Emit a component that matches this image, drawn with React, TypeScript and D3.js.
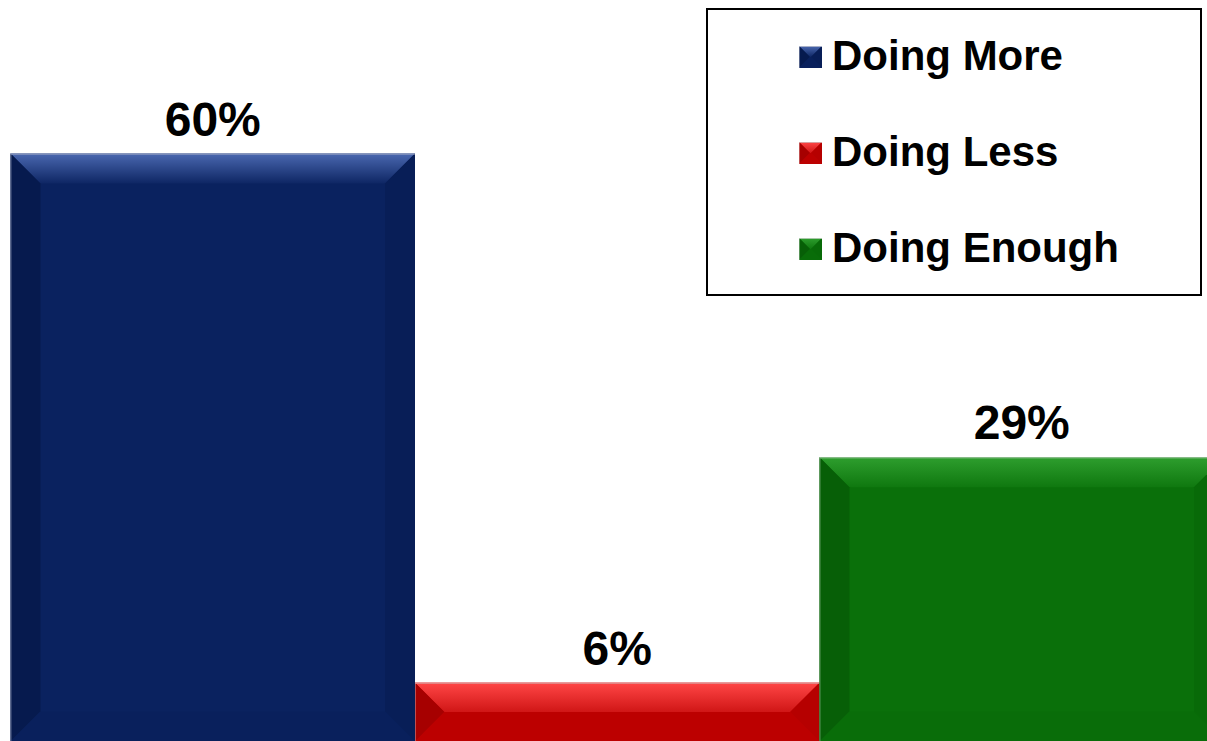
import React from "react";
import * as d3 from "d3";

const categories = ["Doing More", "Doing Less", "Doing Enough"];
const values = [60, 6, 29];
const labels = ["60%", "6%", "29%"];

type Pal = { top1: string; top2: string; body: string; left: string; right: string; bottom: string; edge: string };
const palettes: Pal[] = [
  { top1: "#4a68b0", top2: "#0e2664", body: "#0a225f", left: "#061a4e", right: "#081e57", bottom: "#09205c", edge: "#a8b0c8" },
  { top1: "#ff4646", top2: "#d01616", body: "#c00000", left: "#a60000", right: "#b60000", bottom: "#bc0000", edge: "#d8a0a0" },
  { top1: "#2e9e2e", top2: "#0f780f", body: "#0a700a", left: "#075f07", right: "#086a08", bottom: "#096d09", edge: "#a8c8a8" },
];

const W = 1207;
const H = 741;

function Bevel({ x0, y0, x1, y1, b, pal, id }: { x0: number; y0: number; x1: number; y1: number; b: number; pal: Pal; id: string }) {
  const h = y1 - y0;
  const w = x1 - x0;
  const bb = Math.min(b, h / 2, w / 2);
  const pts = (a: number[][]) => a.map((p) => p.join(",")).join(" ");
  return (
    <g>
      <defs>
        <linearGradient id={id} x1="0" y1="0" x2="0" y2="1">
          <stop offset="0" stopColor={pal.top1} />
          <stop offset="1" stopColor={pal.top2} />
        </linearGradient>
      </defs>
      <rect x={x0} y={y0} width={w} height={h} fill={pal.body} />
      <polygon points={pts([[x0, y0], [x1, y0], [x1 - bb, y0 + bb], [x0 + bb, y0 + bb]])} fill={`url(#${id})`} />
      <polygon points={pts([[x0, y0], [x0 + bb, y0 + bb], [x0 + bb, y1 - bb], [x0, y1]])} fill={pal.left} />
      <polygon points={pts([[x1, y0], [x1 - bb, y0 + bb], [x1 - bb, y1 - bb], [x1, y1]])} fill={pal.right} />
      <polygon points={pts([[x0, y1], [x0 + bb, y1 - bb], [x1 - bb, y1 - bb], [x1, y1]])} fill={pal.bottom} />
      <line x1={x0} x2={x1} y1={y0 + 0.5} y2={y0 + 0.5} stroke={pal.edge} strokeWidth={1} />
      <line x1={x0 + 0.5} x2={x0 + 0.5} y1={y0} y2={y1} stroke={pal.edge} strokeOpacity={0.5} strokeWidth={1} />
    </g>
  );
}

export default function App() {
  const x = d3.scaleBand<string>().domain(categories).range([10.5, 1224]).padding(0);
  const y = d3.scaleLinear().domain([0, 75]).range([741.5, 6.5]);
  const font = "'Liberation Sans', Arial, Helvetica, sans-serif";

  const legendX = 706;
  const legendY = 8;
  const rowY = d3.scalePoint<string>().domain(categories).range([57, 249]);

  return (
    <div style={{ position: "fixed", left: 0, top: 0, width: W, height: H, overflow: "hidden", background: "#fff" }}>
      <svg width={W} height={H} style={{ display: "block" }}>
        {categories.map((c, i) => {
          const x0 = x(c)!;
          const x1 = x0 + x.bandwidth();
          const yt = y(values[i]);
          const yb = y(0);
          return (
            <g key={c}>
              <Bevel x0={x0} y0={yt} x1={x1} y1={yb} b={30} pal={palettes[i]} id={`g${i}`} />
              <text
                x={x0 + x.bandwidth() / 2}
                y={yt - 18}
                textAnchor="middle"
                fontFamily={font}
                fontWeight="bold"
                fontSize={48}
                fill="#000"
              >
                {labels[i]}
              </text>
            </g>
          );
        })}
        <rect x={legendX + 1} y={legendY + 1} width={494} height={286} fill="#fff" stroke="#000" strokeWidth={2} />
        {categories.map((c, i) => {
          const cy = rowY(c)!;
          return (
            <g key={"l" + c}>
              <Bevel x0={799} y0={cy - 11} x1={822} y1={cy + 11} b={11} pal={palettes[i]} id={`lg${i}`} />
              <text x={832} y={cy + 13} fontFamily={font} fontWeight="bold" fontSize={42} fill="#000">
                {c}
              </text>
            </g>
          );
        })}
      </svg>
    </div>
  );
}
